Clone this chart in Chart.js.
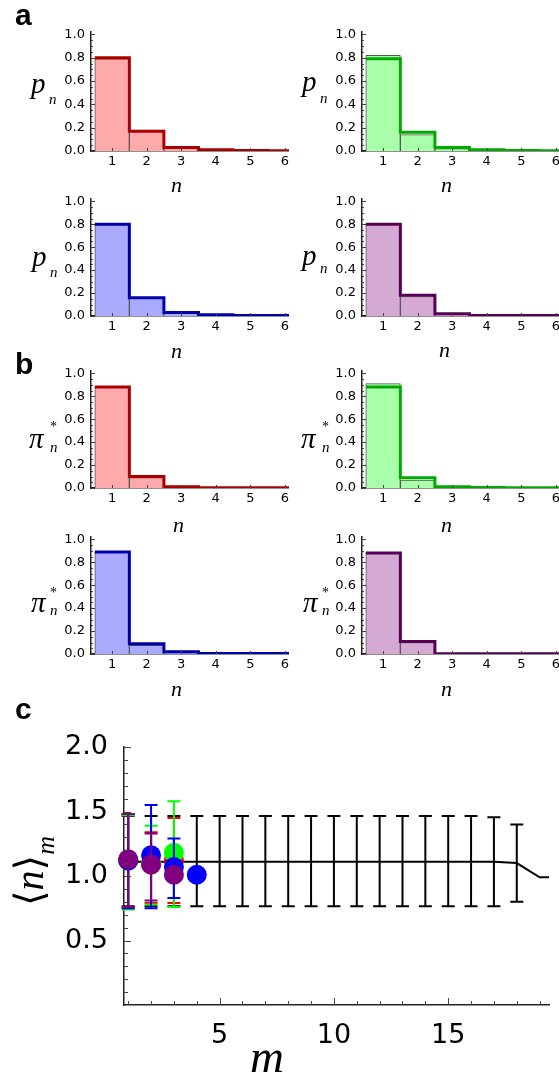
<!DOCTYPE html>
<html>
<head>
<meta charset="utf-8">
<script src="https://cdn.jsdelivr.net/npm/chart.js@4.4.0/dist/chart.umd.min.js"></script>
<style>
  body { margin: 0; background: #fff; overflow: hidden; }
  #fig { position: relative; width: 559px; height: 1078px; overflow: hidden; }
  #fig canvas { position: absolute; }
  .tag { position: absolute; font: bold 30px "Liberation Sans", Arial, sans-serif; line-height: 1; z-index: 2; }
  .it { position: absolute; font-family: "Liberation Serif", "DejaVu Serif", serif; font-style: italic; line-height: 1; white-space: nowrap; z-index: 2; }
  .up { font-style: normal; }
</style>
</head>
<body>
<div id="fig">
  <div class="tag" style="left:15px;top:0px">a</div>
  <div class="tag" style="left:15px;top:349px">b</div>
  <div class="tag" style="left:15px;top:694px">c</div>

  <!-- y labels, panel a -->
  <span class="it" style="left:31px;top:69px;font-size:29px">p</span>
  <span class="it" style="left:49px;top:92px;font-size:15px">n</span>
  <span class="it" style="left:302px;top:67px;font-size:29px">p</span>
  <span class="it" style="left:320px;top:91px;font-size:15px">n</span>
  <span class="it" style="left:32px;top:242px;font-size:29px">p</span>
  <span class="it" style="left:50px;top:265px;font-size:15px">n</span>
  <span class="it" style="left:302px;top:241px;font-size:29px">p</span>
  <span class="it" style="left:320px;top:261px;font-size:15px">n</span>

  <!-- y labels, panel b -->
  <span class="it" style="left:29px;top:424px;font-size:29px">π</span>
  <span class="it up" style="left:50px;top:420px;font-size:14px">*</span>
  <span class="it" style="left:50px;top:440px;font-size:15px">n</span>
  <span class="it" style="left:301px;top:424px;font-size:29px">π</span>
  <span class="it up" style="left:322px;top:420px;font-size:14px">*</span>
  <span class="it" style="left:322px;top:440px;font-size:15px">n</span>
  <span class="it" style="left:31px;top:588px;font-size:29px">π</span>
  <span class="it up" style="left:50px;top:586px;font-size:14px">*</span>
  <span class="it" style="left:50px;top:603px;font-size:15px">n</span>
  <span class="it" style="left:303px;top:588px;font-size:29px">π</span>
  <span class="it up" style="left:322px;top:586px;font-size:14px">*</span>
  <span class="it" style="left:322px;top:603px;font-size:15px">n</span>

  <!-- x labels, small panels -->
  <span class="it" style="left:171px;top:174px;font-size:22px">n</span>
  <span class="it" style="left:441px;top:174px;font-size:22px">n</span>
  <span class="it" style="left:171px;top:340px;font-size:22px">n</span>
  <span class="it" style="left:439px;top:339px;font-size:22px">n</span>
  <span class="it" style="left:173px;top:514px;font-size:22px">n</span>
  <span class="it" style="left:441px;top:514px;font-size:22px">n</span>
  <span class="it" style="left:171px;top:678px;font-size:22px">n</span>
  <span class="it" style="left:441px;top:678px;font-size:22px">n</span>

  <!-- panel c axis labels -->
  <span class="it" style="left:250px;top:1033px;font-size:47px">m</span>
  <div class="it" style="left:10px;top:906px;font-size:40px;transform-origin:left top;transform:rotate(-90deg)"><span class="up">⟨</span>n<span class="up">⟩</span><span style="font-size:26px;vertical-align:-11px">m</span></div>
</div>

<script>
// histogram bins and axis ticks of the small panels
const nBins = [1, 2, 3, 4, 5, 6];
const xTicksSmall = [1, 2, 3, 4, 5, 6];
const yTicksSmall = [0, 0.2, 0.4, 0.6, 0.8, 1.0];

// panel a: p_n  (filled bars / thick step outline)
const pRedBars    = [0.79, 0.18, 0.03, 0.01, 0.004, 0.002];
const pRedStep    = [0.80, 0.17, 0.03, 0.01, 0.004, 0.002];
const pGreenBars  = [0.82, 0.14, 0.02, 0.01, 0.004, 0.002];
const pGreenStep  = [0.79, 0.16, 0.03, 0.01, 0.004, 0.002];
const pBlueBars   = [0.80, 0.16, 0.03, 0.01, 0.004, 0.004];
const pBlueStep   = [0.80, 0.16, 0.03, 0.01, 0.005, 0.005];
const pPurpleBars = [0.80, 0.17, 0.02, 0.005, 0.004, 0.004];
const pPurpleStep = [0.80, 0.18, 0.02, 0.005, 0.005, 0.005];

// panel b: pi*_n
const sRedBars    = [0.88, 0.09, 0.01, 0.003, 0.002, 0.001];
const sRedStep    = [0.88, 0.10, 0.01, 0.003, 0.003, 0.002];
const sGreenBars  = [0.91, 0.07, 0.01, 0.003, 0.002, 0.001];
const sGreenStep  = [0.88, 0.09, 0.01, 0.004, 0.003, 0.002];
const sBlueBars   = [0.89, 0.075, 0.01, 0.003, 0.002, 0.002];
const sBlueStep   = [0.89, 0.09, 0.02, 0.005, 0.004, 0.004];
const sPurpleBars = [0.88, 0.10, 0.003, 0.002, 0.002, 0.002];
const sPurpleStep = [0.88, 0.11, 0.003, 0.003, 0.003, 0.003];

// panel c: <n>_m
const mAll    = [1, 2, 3, 4, 5, 6, 7, 8, 9, 10, 11, 12, 13, 14, 15, 16, 17, 18, 19, 20];
const allMean = [1.11, 1.11, 1.11, 1.11, 1.11, 1.11, 1.11, 1.11, 1.11, 1.11, 1.11, 1.11, 1.11, 1.11, 1.11, 1.11, 1.11, 1.10, 0.99, 0.99];
const allHi   = [1.465, 1.465, 1.465, 1.465, 1.465, 1.465, 1.465, 1.465, 1.465, 1.465, 1.465, 1.465, 1.465, 1.465, 1.465, 1.465, 1.455, 1.40, null, null];
const allLo   = [0.765, 0.765, 0.765, 0.765, 0.765, 0.765, 0.765, 0.765, 0.765, 0.765, 0.765, 0.765, 0.765, 0.765, 0.765, 0.765, 0.765, 0.80, null, null];

const mRed = [1, 2, 3];
const redMean = [1.12, 1.09, 1.12];
const redHi   = [1.47, 1.34, 1.45];
const redLo   = [0.75, 0.79, 0.79];

const mGreen = [1, 2, 3];
const greenMean = [1.12, 1.10, 1.18];
const greenHi   = [1.47, 1.39, 1.58];
const greenLo   = [0.74, 0.78, 0.76];

const mBlue = [1, 2, 3, 4];
const blueMean = [1.12, 1.16, 1.07, 1.01];
const blueHi   = [1.48, 1.55, 1.29, null];
const blueLo   = [0.75, 0.75, 0.83, null];

const mPurple = [1, 2, 3];
const purpleMean = [1.13, 1.09, 1.01];
const purpleHi   = [1.48, 1.33, null];
const purpleLo   = [0.76, 0.81, null];

const yTicksC = [0.5, 1.0, 1.5, 2.0];
const xTicksC = [5, 10, 15];

// ticks drawn pointing into the plot, Mathematica style
const inTicks = {
  id: 'inTicks',
  afterDraw(chart, args, o) {
    const { ctx, chartArea: a, scales: { x, y } } = chart;
    ctx.save();
    ctx.strokeStyle = '#444';
    ctx.lineWidth = 1;
    ctx.beginPath();
    const yTick = (v, len) => {
      const py = Math.round(y.getPixelForValue(v)) + 0.5;
      ctx.moveTo(a.left, py); ctx.lineTo(a.left + len, py);
    };
    const xTick = (v, len) => {
      const px = Math.round(x.getPixelForValue(v)) + 0.5;
      if (px < a.left || px > a.right) return;
      ctx.moveTo(px, a.bottom); ctx.lineTo(px, a.bottom - len);
    };
    o.yMinor.forEach(v => yTick(v, o.minorLen));
    o.yMajor.forEach(v => yTick(v, o.majorLen));
    o.xMinor.forEach(v => xTick(v, o.minorLen));
    o.xMajor.forEach(v => xTick(v, o.xLen));
    ctx.stroke();
    ctx.restore();
  }
};

// vertical error bars with caps, drawn just below each dataset's own points
const errorBars = {
  id: 'errorBars',
  beforeDatasetDraw(chart, args) {
    const ds = chart.data.datasets[args.index];
    if (!ds.errHi) return;
    const { ctx, scales: { x, y } } = chart;
    ctx.save();
    ctx.strokeStyle = ds.errColor;
    ctx.lineWidth = 2;
    ctx.beginPath();
    ds.data.forEach((pt, i) => {
      const hi = ds.errHi[i], lo = ds.errLo[i];
      if (hi == null) return;
      const px = x.getPixelForValue(pt.x);
      const pHi = y.getPixelForValue(hi), pLo = y.getPixelForValue(lo);
      ctx.moveTo(px, pLo); ctx.lineTo(px, pHi);
      ctx.moveTo(px - 6.5, pHi); ctx.lineTo(px + 6.5, pHi);
      ctx.moveTo(px - 6.5, pLo); ctx.lineTo(px + 6.5, pLo);
    });
    ctx.stroke();
    ctx.restore();
  }
};

Chart.register(inTicks, errorBars);

const fig = document.getElementById('fig');
function place(left, top, w, h) {
  const c = document.createElement('canvas');
  c.style.left = left + 'px';
  c.style.top = top + 'px';
  c.width = w; c.height = h;
  fig.insertBefore(c, fig.firstChild);
  return c;
}

const yMinorSmall = [];
for (let v = 0.05; v < 1.01; v += 0.05) yMinorSmall.push(+v.toFixed(2));

const noGrid = { display: false, drawTicks: false, tickLength: 0, offset: false };

// left: x pixel of the y axis, y0: pixel row of zero, unit: pixels per 1.0
function histogram(left, y0, unit, bars, step, fill, edge) {
  const yW = 60, topPad = 12, xH = 26, w = 198;
  const ymax = 1.02, h = Math.round(unit * ymax);
  const canvas = place(left - yW, y0 - h - topPad, yW + w, topPad + h + xH);
  const stepPts = nBins.map((n, i) => ({ x: n - 0.5, y: step[i] }));
  stepPts.push({ x: nBins[nBins.length - 1] + 0.5, y: step[step.length - 1] });
  const font = { family: 'DejaVu Sans', size: 13 };
  new Chart(canvas, {
    type: 'bar',
    data: {
      datasets: [
        {
          type: 'line',
          data: stepPts,
          stepped: 'before',
          borderColor: edge,
          borderWidth: 3,
          pointRadius: 0,
          order: 1
        },
        {
          type: 'bar',
          data: nBins.map((n, i) => ({ x: n, y: bars[i] })),
          backgroundColor: fill,
          borderColor: '#555',
          borderWidth: 1,
          barPercentage: 1,
          categoryPercentage: 1,
          order: 2
        }
      ]
    },
    options: {
      responsive: false,
      animation: false,
      layout: { padding: { top: topPad, left: 0, right: 0, bottom: 0 } },
      plugins: {
        legend: { display: false },
        tooltip: { enabled: false },
        inTicks: { yMajor: yTicksSmall, yMinor: yMinorSmall, xMajor: xTicksSmall, xMinor: [], majorLen: 4, minorLen: 2, xLen: 3 }
      },
      scales: {
        x: {
          type: 'linear', min: 0.39, max: 6.12, offset: false,
          grid: noGrid,
          border: { display: true, color: '#222', width: 1.5 },
          ticks: { font, color: '#000', padding: 3, maxRotation: 0 },
          afterBuildTicks: s => { s.ticks = xTicksSmall.map(v => ({ value: v })); },
          afterFit: s => { s.height = xH; s.paddingLeft = 0; s.paddingRight = 0; }
        },
        y: {
          min: 0, max: ymax,
          grid: noGrid,
          border: { display: true, color: '#222', width: 1.5 },
          ticks: { font, color: '#000', padding: 6, callback: v => v.toFixed(1) },
          afterBuildTicks: s => { s.ticks = yTicksSmall.map(v => ({ value: v })); },
          afterFit: s => { s.width = yW; s.paddingTop = 0; s.paddingBottom = 0; }
        }
      }
    }
  });
}

const RED = ['#FFAAAA', '#AA0000'];
const GREEN = ['#AAFFAA', '#00AA00'];
const BLUE = ['#AAAAFF', '#0000AA'];
const PURPLE = ['#D4AAD4', '#550055'];

histogram(91, 151, 117, pRedBars, pRedStep, ...RED);
histogram(362, 151, 117, pGreenBars, pGreenStep, ...GREEN);
histogram(91, 316, 115, pBlueBars, pBlueStep, ...BLUE);
histogram(362, 316, 115, pPurpleBars, pPurpleStep, ...PURPLE);
histogram(91, 488, 115, sRedBars, sRedStep, ...RED);
histogram(362, 488, 115, sGreenBars, sGreenStep, ...GREEN);
histogram(91, 654, 115, sBlueBars, sBlueStep, ...BLUE);
histogram(362, 654, 115, sPurpleBars, sPurpleStep, ...PURPLE);

// panel c
const yMinorC = [], xMinorC = [];
for (let v = 0.1; v < 2.01; v += 0.1) yMinorC.push(+v.toFixed(1));
for (let m = 1; m <= 19; m++) xMinorC.push(m);

function points(ms, mean, hi, lo, color, order) {
  return {
    type: 'scatter',
    data: ms.map((m, i) => ({ x: m, y: mean[i] })),
    errHi: hi, errLo: lo, errColor: color,
    backgroundColor: color,
    borderWidth: 0,
    pointRadius: 10,
    clip: false,
    order
  };
}

(function () {
  const yW = 110, topPad = 20, xH = 60, w = 435, h = 258;
  const canvas = place(124 - yW, 747 - topPad, yW + w, topPad + h + xH);
  const font = { family: 'DejaVu Sans', size: 27 };
  new Chart(canvas, {
    type: 'scatter',
    data: {
      datasets: [
        {
          type: 'line',
          data: mAll.map((m, i) => ({ x: m, y: allMean[i] })),
          errHi: allHi, errLo: allLo, errColor: '#000',
          borderColor: '#000',
          borderWidth: 2,
          pointRadius: 0,
          tension: 0,
          order: 5
        },
        points(mRed, redMean, redHi, redLo, '#FF0000', 4),
        points(mGreen, greenMean, greenHi, greenLo, '#00FF00', 3),
        points(mBlue, blueMean, blueHi, blueLo, '#0000FF', 2),
        points(mPurple, purpleMean, purpleHi, purpleLo, '#800080', 1)
      ]
    },
    options: {
      responsive: false,
      animation: false,
      layout: { padding: { top: topPad, left: 0, right: 0, bottom: 0 } },
      plugins: {
        legend: { display: false },
        tooltip: { enabled: false },
        inTicks: { yMajor: yTicksC, yMinor: yMinorC, xMajor: xTicksC, xMinor: xMinorC, majorLen: 7, minorLen: 4, xLen: 7 }
      },
      scales: {
        x: {
          type: 'linear', min: 0.816, max: 19.41,
          grid: noGrid,
          border: { display: true, color: '#222', width: 1.5 },
          ticks: { font, color: '#000', padding: 15, maxRotation: 0 },
          afterBuildTicks: s => { s.ticks = xTicksC.map(v => ({ value: v })); },
          afterFit: s => { s.height = xH; s.paddingLeft = 0; s.paddingRight = 0; }
        },
        y: {
          min: 0, max: 2.0,
          grid: noGrid,
          border: { display: true, color: '#222', width: 1.5 },
          ticks: { font, color: '#000', padding: 16, callback: v => v.toFixed(1) },
          afterBuildTicks: s => { s.ticks = yTicksC.map(v => ({ value: v })); },
          afterFit: s => { s.width = yW; s.paddingTop = 0; s.paddingBottom = 0; }
        }
      }
    }
  });
})();
</script>
</body>
</html>
